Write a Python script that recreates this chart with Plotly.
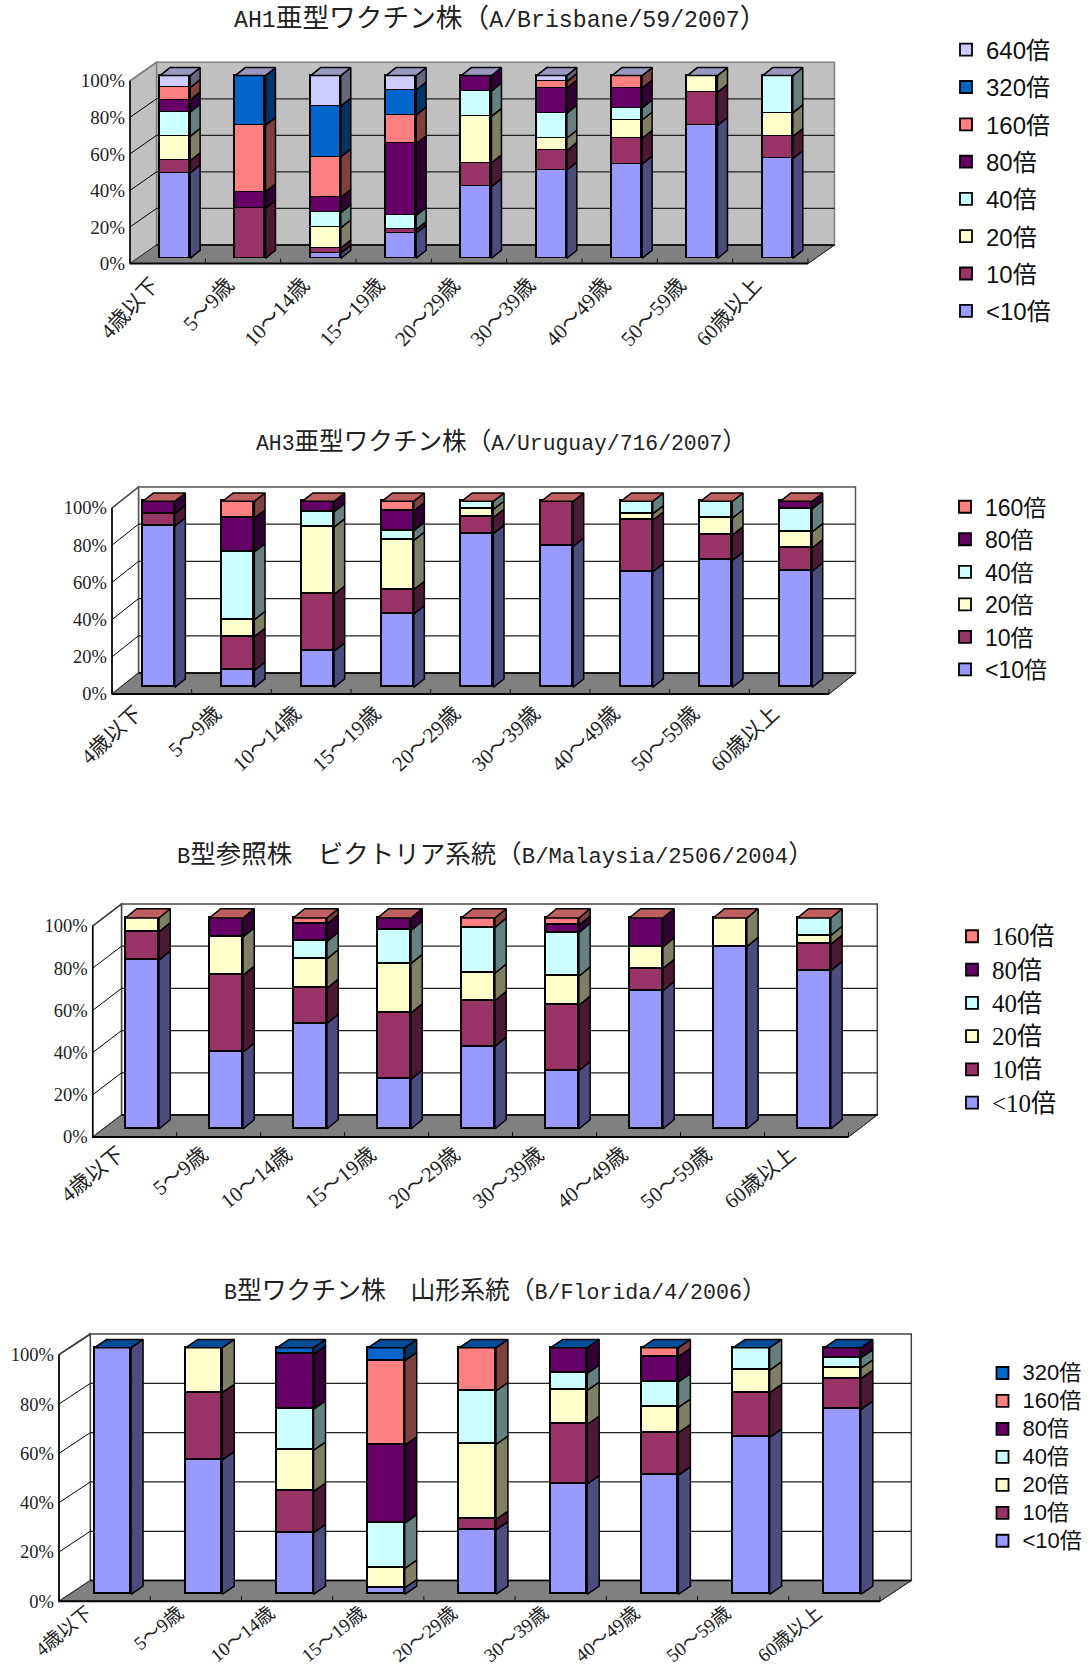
import re
import plotly.graph_objects as go

AGE_GROUPS = ["4歳以下", "5～9歳", "10～14歳", "15～19歳", "20～29歳",
              "30～39歳", "40～49歳", "50～59歳", "60歳以上"]

TITERS = ["<10倍", "10倍", "20倍", "40倍", "80倍", "160倍", "320倍", "640倍"]

# Share of each titre class (%) per age group
H1_LT10 = [46.7, 0, 2.8, 13.7, 39.2, 48.2, 51.5, 72.7, 54.5]
H1_10 = [6.7, 27.3, 2.8, 2.0, 13.0, 10.7, 14.2, 18.2, 12.1]
H1_20 = [13.3, 0, 11.1, 0, 25.5, 6.8, 10.0, 9.1, 13.0]
H1_40 = [13.3, 0, 8.3, 7.8, 13.9, 13.7, 6.6, 0, 20.4]
H1_80 = [6.7, 9.1, 8.3, 39.2, 8.4, 13.7, 10.8, 0, 0]
H1_160 = [6.7, 36.4, 22.2, 15.7, 0, 3.6, 6.9, 0, 0]
H1_320 = [0, 27.2, 27.8, 13.7, 0, 0, 0, 0, 0]
H1_640 = [6.6, 0, 16.7, 7.9, 0, 3.3, 0, 0, 0]

H3_LT10 = [86.7, 9.1, 19.4, 39.4, 82.6, 75.8, 62.0, 68.2, 62.5]
H3_10 = [6.7, 18.2, 30.6, 13.1, 8.7, 24.2, 27.8, 13.7, 12.4]
H3_20 = [0, 9.1, 36.1, 26.5, 4.4, 0, 3.4, 9.1, 8.6]
H3_40 = [0, 36.4, 8.3, 5.2, 4.3, 0, 6.8, 9.0, 12.4]
H3_80 = [6.6, 18.2, 5.6, 10.6, 0, 0, 0, 0, 4.1]
H3_160 = [0, 9.0, 0, 5.2, 0, 0, 0, 0, 0]

BV_LT10 = [80.0, 36.4, 50.0, 23.5, 39.1, 27.6, 65.5, 86.4, 75.0]
BV_10 = [13.4, 36.4, 16.7, 31.4, 21.7, 31.0, 10.5, 0, 12.5]
BV_20 = [6.6, 18.2, 13.9, 23.5, 13.0, 13.8, 10.3, 13.6, 4.2]
BV_40 = [0, 0, 8.3, 15.7, 21.7, 20.7, 0, 0, 8.3]
BV_80 = [0, 9.0, 8.3, 5.9, 0, 3.4, 13.7, 0, 0]
BV_160 = [0, 0, 2.8, 0, 4.5, 3.5, 0, 0, 0]

BY_LT10 = [100.0, 54.5, 25.0, 2.6, 26.1, 44.8, 48.3, 63.6, 75.0]
BY_10 = [0, 27.3, 16.7, 0, 4.3, 24.1, 17.2, 18.2, 12.5]
BY_20 = [0, 18.2, 16.7, 7.9, 30.4, 13.8, 10.3, 9.1, 4.2]
BY_40 = [0, 0, 16.7, 18.4, 21.7, 6.9, 10.3, 9.1, 4.2]
BY_80 = [0, 0, 22.2, 31.6, 0, 10.4, 10.3, 0, 4.1]
BY_160 = [0, 0, 0, 34.2, 17.5, 0, 3.6, 0, 0]
BY_320 = [0, 0, 2.7, 5.3, 0, 0, 0, 0, 0]

TITLES = ["AH1亜型ワクチン株（A/Brisbane/59/2007）",
          "AH3亜型ワクチン株（A/Uruguay/716/2007）",
          "B型参照株　ビクトリア系統（B/Malaysia/2506/2004）",
          "B型ワクチン株　山形系統（B/Florida/4/2006）"]

SERIES = [
    [H1_LT10, H1_10, H1_20, H1_40, H1_80, H1_160, H1_320, H1_640],
    [H3_LT10, H3_10, H3_20, H3_40, H3_80, H3_160],
    [BV_LT10, BV_10, BV_20, BV_40, BV_80, BV_160],
    [BY_LT10, BY_10, BY_20, BY_40, BY_80, BY_160, BY_320],
]

# Face colours per titre class: front, shaded side, lit top
FRONT = ["#9999FF", "#993366", "#FFFFCC", "#CCFFFF", "#660066", "#FF8080", "#0066CC", "#CCCCFF"]
SIDE = ["#4C4C7F", "#4C1933", "#7F7F66", "#667F7F", "#330033", "#7F4040", "#003366", "#66667F"]
TOP = ["#7373BF", "#73264C", "#BFBF99", "#99BFBF", "#4C004C", "#BF6060", "#004C99", "#9999BF"]

SERIF = "'Liberation Serif','Noto Sans CJK JP',serif"
GOTHIC = "'Liberation Sans','Noto Sans CJK JP',sans-serif"
TITLE_FONT = "'Liberation Mono','Noto Sans CJK JP',monospace"

# Pixel layout of each panel's box
PANELS = [
    dict(fl=130, fr=808, y0=263.5, y100=80.8, dx=26.5, dy=18.5, bar_dx=10, bar_dy=8, gap_x=7.4, gap_y=5.2,
         wall="#C0C0C0", edge="#808080", angle=-47, tick_size=21, val_size=19, shift=-15.5, standoff=0,
         leg_x=953, leg_y=27.6, leg_size=24, leg_row=24, leg_gap=3.1, leg_font=GOTHIC,
         title_x=500, title_y=19, title_size=26.7),
    dict(fl=112, fr=829, y0=694, y100=508, dx=26.5, dy=21, bar_dx=10.7, bar_dy=8.3, gap_x=6.9, gap_y=6.7,
         wall="#FFFFFF", edge="#555555", angle=-43, tick_size=21, val_size=18.5, shift=-16, standoff=-2,
         leg_x=952, leg_y=485.5, leg_size=23, leg_row=22.7, leg_gap=0, leg_font=GOTHIC,
         title_x=501, title_y=442, title_size=24.6),
    dict(fl=92.7, fr=848.5, y0=1137, y100=926, dx=28.8, dy=22, bar_dx=11.3, bar_dy=9.3, gap_x=7.5, gap_y=8,
         wall="#FFFFFF", edge="#444444", angle=-39, tick_size=21, val_size=18.5, shift=-16, standoff=-4,
         leg_x=959, leg_y=914.6, leg_size=25, leg_row=23.3, leg_gap=0, leg_font=SERIF,
         title_x=495, title_y=856, title_size=25.5),
    dict(fl=59, fr=880, y0=1601.3, y100=1354.7, dx=31.3, dy=20.7, bar_dx=12, bar_dy=8.3, gap_x=8.2, gap_y=7,
         wall="#FFFFFF", edge="#444444", angle=-39, tick_size=19, val_size=18.5, shift=-17, standoff=-8,
         leg_x=989.5, leg_y=1354, leg_size=22, leg_row=19.2, leg_gap=0, leg_font=GOTHIC,
         title_x=495, title_y=1291, title_size=24.8),
]

FIG_W, FIG_H = 1090, 1668
PAD = 4
BAR_WIDTH = 0.4
GRID_TICKS = [20, 40, 60, 80, 100]

fig = go.Figure()
layout = dict(width=FIG_W, height=FIG_H, autosize=False,
              margin=dict(l=0, r=0, t=0, b=0, autoexpand=False),
              paper_bgcolor="white", plot_bgcolor="rgba(0,0,0,0)", barmode="stack",
              showlegend=True, bargap=0, shapes=[], annotations=[])


def px_x(v):
    return v / FIG_W


def px_y(v):
    return 1 - v / FIG_H


def title_markup(text, size):
    # Latin runs are set smaller so they take half the advance of a kanji
    return re.sub(r"([!-~]+)", rf'<span style="font-size:{size * 0.87:.1f}px">\1</span>', text)


for k, (p, series) in enumerate(zip(PANELS, SERIES)):
    xid, yid, bid = f"x{k + 1}", f"y{2 * k + 1}", f"y{2 * k + 2}"
    band = (p["fr"] - p["fl"]) / len(AGE_GROUPS)
    scale = (p["y0"] - p["y100"]) / 100
    dx, dy = p["dx"] / band, p["dy"] / scale
    gx, gy = p["gap_x"] / band, p["gap_y"] / scale
    bdx, bdy = p["bar_dx"] / band, p["bar_dy"] / scale
    x_lo, x_hi = -0.5, len(AGE_GROUPS) - 0.5
    y_lo = -PAD / scale
    y_hi = 100 + dy + PAD / scale
    dom_x = [px_x(p["fl"] - PAD), px_x(p["fr"] + p["dx"] + PAD)]
    dom_y = [px_y(p["y0"] + PAD), px_y(p["y100"] - p["dy"] - PAD)]
    x_range = [x_lo - PAD / band, x_hi + dx + PAD / band]

    layout["xaxis" if k == 0 else f"xaxis{k + 1}"] = dict(
        domain=dom_x, range=x_range, anchor=yid, showgrid=False, zeroline=False, showline=False,
        tickmode="array", tickvals=[i + p["shift"] / band for i in range(len(AGE_GROUPS))],
        ticktext=AGE_GROUPS, tickangle=p["angle"], ticks="", ticklabelstandoff=p["standoff"],
        tickfont=dict(family=SERIF, size=p["tick_size"], color="#222222"))
    layout["yaxis" if k == 0 else f"yaxis{2 * k + 1}"] = dict(
        domain=dom_y, range=[y_lo, y_hi], anchor=xid, showgrid=False, zeroline=False, showline=False,
        tickmode="array", tickvals=[0] + GRID_TICKS, ticktext=[f"{t}%" for t in [0] + GRID_TICKS],
        ticks="", tickfont=dict(family=SERIF, size=p["val_size"], color="#222222"))
    layout[f"yaxis{2 * k + 2}"] = dict(
        domain=dom_y, range=[y_lo - gy, y_hi - gy], anchor=xid, overlaying=yid,
        visible=False, showgrid=False, zeroline=False)

    leg_key = "legend" if k == 0 else f"legend{k + 1}"
    layout[leg_key] = dict(
        x=px_x(p["leg_x"]), y=px_y(p["leg_y"]), xanchor="left", yanchor="top",
        traceorder="grouped", tracegroupgap=p["leg_gap"], indentation=-7,
        bgcolor="rgba(0,0,0,0)", borderwidth=0, itemclick=False, itemdoubleclick=False,
        font=dict(family=p["leg_font"], size=p["leg_row"], color="#111111"))

    # Walls, floor and gridlines sit behind the bars
    shapes = layout["shapes"]
    common = dict(xref=xid, yref=yid, layer="below")

    def poly(pts, fill, line, width):
        path = "M" + " L".join(f"{a},{b}" for a, b in pts) + " Z"
        shapes.append(dict(type="path", path=path, fillcolor=fill,
                           line=dict(color=line, width=width), **common))

    def seg(x0, y0, x1, y1, color="black", width=1):
        shapes.append(dict(type="line", x0=x0, y0=y0, x1=x1, y1=y1,
                           line=dict(color=color, width=width), **common))

    poly([(x_lo + dx, dy), (x_hi + dx, dy), (x_hi + dx, 100 + dy), (x_lo + dx, 100 + dy)],
         p["wall"], p["edge"], 1.5)
    poly([(x_lo, 0), (x_lo + dx, dy), (x_lo + dx, 100 + dy), (x_lo, 100)],
         p["wall"], p["edge"], 1.5)
    poly([(x_lo, 0), (x_hi, 0), (x_hi + dx, dy), (x_lo + dx, dy)], "#808080", "#333333", 1)
    for t in GRID_TICKS[:-1]:
        seg(x_lo, t, x_lo + dx, t + dy)
        seg(x_lo + dx, t + dy, x_hi + dx, t + dy, "#222222", 1.2)
    seg(x_lo, 100, x_lo + dx, 100 + dy, p["edge"], 1.5)
    seg(x_lo + dx, dy, x_hi + dx, dy, "black", 1.5)
    seg(x_lo, 0, x_hi, 0, "black", 2)
    seg(x_lo, 0, x_lo, 100, "black", 1.5)
    seg(x_hi, 0, x_hi + dx, dy, "#333333", 1)
    for i in range(len(AGE_GROUPS) + 1):
        seg(x_lo + i, 0, x_lo + i, 5 / scale, "#111111", 1)

    # Front faces come from stacked bars; side and top faces follow the same totals
    totals = [0.0] * len(AGE_GROUPS)
    for j, values in enumerate(series):
        fig.add_trace(go.Bar(
            x=list(range(len(AGE_GROUPS))), y=values,
            name=f'<span style="font-size:{p["leg_size"]}px">{TITERS[j].replace("<", "&lt;")}</span>',
            width=BAR_WIDTH, offset=-BAR_WIDTH / 2 + gx,
            marker=dict(color=FRONT[j], line=dict(color="black", width=1.8)),
            xaxis=xid, yaxis=bid, legend=leg_key, legendgroup=f"panel{k}-{j}",
            legendrank=100 - j, hoverinfo="skip"))
        sx, sy = [], []
        for i, v in enumerate(values):
            base = totals[i]
            if v > 0:
                right = i + gx + BAR_WIDTH / 2
                sx += [right, right + bdx, right + bdx, right, right, None]
                sy += [base, base + bdy, base + v + bdy, base + v, base, None]
            totals[i] = base + v
        fig.add_trace(go.Scatter(
            x=sx, y=sy, mode="lines", fill="toself", fillcolor=SIDE[j],
            line=dict(color="black", width=1.5), xaxis=xid, yaxis=bid,
            showlegend=False, hoverinfo="skip"))

    tx, ty = [], []
    for i, total in enumerate(totals):
        left, right = i + gx - BAR_WIDTH / 2, i + gx + BAR_WIDTH / 2
        tx += [left, right, right + bdx, left + bdx, left, None]
        ty += [total, total, total + bdy, total + bdy, total, None]
    fig.add_trace(go.Scatter(
        x=tx, y=ty, mode="lines", fill="toself", fillcolor=TOP[len(series) - 1],
        line=dict(color="black", width=1.5), xaxis=xid, yaxis=bid,
        showlegend=False, hoverinfo="skip"))

    layout["annotations"].append(dict(
        text=title_markup(TITLES[k], p["title_size"]), xref="paper", yref="paper",
        x=px_x(p["title_x"]), y=px_y(p["title_y"]),
        xanchor="center", yanchor="middle", showarrow=False,
        font=dict(family=TITLE_FONT, size=p["title_size"], color="#222222")))

fig.update_layout(**layout)
fig.write_html("out.html")
